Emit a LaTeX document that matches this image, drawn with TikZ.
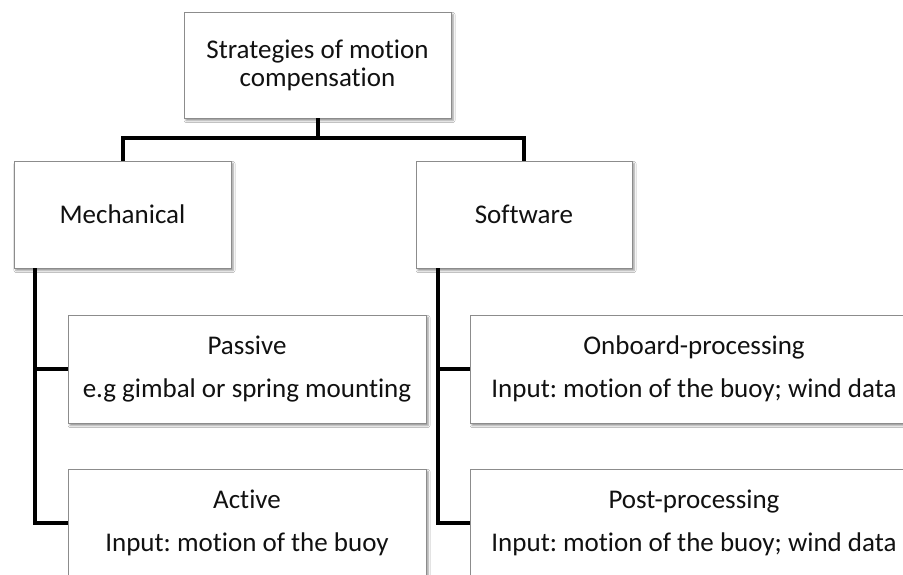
\documentclass[tikz,border=0pt]{standalone}
\usepackage{fontspec}
\setmainfont{Carlito}[Ligatures=NoCommon]
\frenchspacing
\usetikzlibrary{shadows.blur,calc}
\definecolor{boxline}{HTML}{8C8C8C}
\definecolor{inktext}{HTML}{111111}
\tikzset{
  catbox/.style={rectangle, draw=boxline, line width=0.9pt, fill=white,
    text=inktext, align=center, inner sep=0pt,
    font=\fontsize{27}{28}\selectfont,
    blur shadow={shadow xshift=2pt, shadow yshift=-2.5pt,
      shadow blur radius=2pt, shadow opacity=45}},
  tree/.style={line width=4pt, black, line join=miter}
}
\begin{document}
\begin{tikzpicture}[x=1pt, y=-1pt]
  \path[use as bounding box, clip] (0,0) rectangle (903,575);
  \fill[white] (0,0) rectangle (903,575);

  % root and the two main branches
  \node[catbox, minimum width=267pt, minimum height=106pt] (root) at (317.5,65)
    {Strategies of motion\\compensation};
  \node[catbox, minimum width=217pt, minimum height=107pt] (mech) at (122.5,214.5)
    {Mechanical};
  \node[catbox, minimum width=216pt, minimum height=107pt] (soft) at (524,214.5)
    {Software};

  % leaves
  \node[catbox, minimum width=358pt, minimum height=108pt] (passive) at (247,369)
    {Passive\\[15pt]e.g gimbal or spring mounting};
  \node[catbox, minimum width=358pt, minimum height=108pt] (active) at (247,523)
    {Active\\[15pt]Input: motion of the buoy};
  \node[catbox, minimum width=448pt, minimum height=108pt] (onboard) at (694,369)
    {Onboard-processing\\[15pt]Input: motion of the buoy; wind data};
  \node[catbox, minimum width=448pt, minimum height=108pt] (post) at (694,523)
    {Post-processing\\[15pt]Input: motion of the buoy; wind data};

  % connectors
  \coordinate (bus) at ($(root.south)+(0,20)$);
  \coordinate (mtrunk) at ($(mech.south west)+(21,0)$);
  \coordinate (strunk) at ($(soft.south west)+(22,0)$);
  \draw[tree] (root.south) -- (bus);
  \draw[tree] (mech.north) |- (bus) -| (soft.north);
  \draw[tree] (mtrunk) |- (passive.west);
  \draw[tree] (mtrunk) |- (active.west);
  \draw[tree] (strunk) |- (onboard.west);
  \draw[tree] (strunk) |- (post.west);
\end{tikzpicture}
\end{document}
